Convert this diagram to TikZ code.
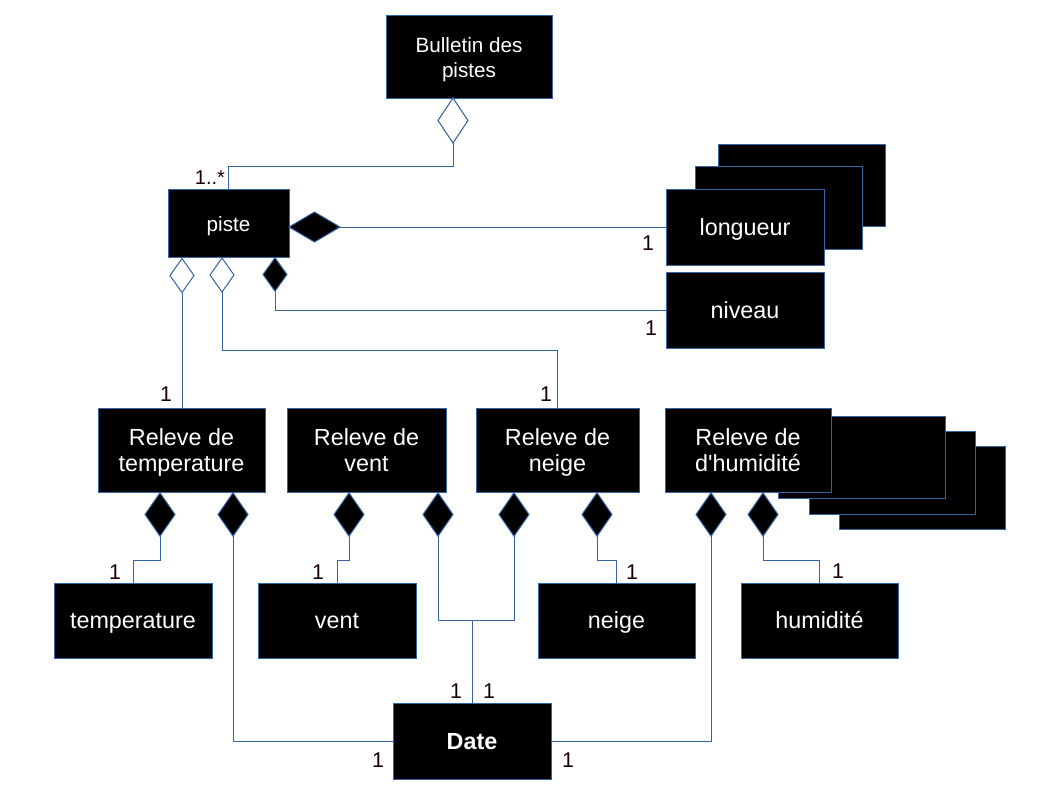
\documentclass[tikz,border=0pt]{standalone}
\usepackage{fontspec}
\setmainfont{Liberation Sans}
\usetikzlibrary{shapes.geometric}
\definecolor{lnblue}{RGB}{52,101,164}
\newcommand\tstrut{\rule{0pt}{18pt}}
\tikzset{
  box/.style={draw=lnblue, line width=0.75pt, fill=black, text=white, inner sep=0pt, outer sep=0pt, align=center, font=\fontsize{17.5}{19.5}\selectfont},
  smallbox/.style={box, font=\fontsize{15.5}{18.75}\selectfont},
  rect/.style n args={4}{minimum width={(#3-#1)*0.75pt}, minimum height={(#4-#2)*0.75pt}, at={({(#1+#3)/2},{(#2+#4)/2})}},
  dia/.style={diamond, draw=lnblue, line width=0.75pt, inner sep=0pt, outer sep=0pt},
  hol/.style={dia, fill=white},
  ful/.style={dia, fill=black},
  vd/.style={minimum width=22.5pt, minimum height=32.5pt},
  conn/.style={draw=lnblue, line width=0.75pt},
  lbl/.style={font=\fontsize{16}{18}\selectfont, inner sep=0pt, text=black!90!red}
}
\begin{document}
\begin{tikzpicture}[x=0.75pt, y=-0.75pt]
\useasboundingbox[fill=white] (0,0) rectangle (1058,794);

% boxes
\node[smallbox, rect={386}{15}{552}{98}] (bull) {\tstrut Bulletin des\\pistes\strut};
\node[smallbox, rect={168}{189}{289}{257}] (piste) {\tstrut piste\strut};
\node[box, rect={718}{144}{885}{226}] (lonC) {};
\node[box, rect={695}{166}{862}{249}] (lonB) {};
\node[box, rect={666}{189}{824}{265}] (lon) {\tstrut longueur\strut};
\node[box, rect={666}{272}{824}{348}] (niv) {\tstrut niveau\strut};

\node[box, rect={98}{408}{265}{492}] (rT) {\tstrut Releve de\\temperature\strut};
\node[box, rect={287}{408}{446}{492}] (rV) {\tstrut Releve de\\vent\strut};
\node[box, rect={476}{408}{639}{492}] (rN) {\tstrut Releve de\\neige\strut};
\node[box, rect={839}{446}{1005}{529}] (hC) {};
\node[box, rect={809}{431}{975}{514}] (hB) {};
\node[box, rect={778}{416}{945}{498}] (hA) {};
\node[box, rect={665}{408}{831}{492}] (rH) {\tstrut Releve de\\d\textquotesingle humidité\strut};

\node[box, rect={54}{583}{212}{658}] (tmp) {\tstrut temperature\strut};
\node[box, rect={258}{583}{416}{658}] (vnt) {\tstrut vent\strut};
\node[box, rect={538}{583}{695}{658}] (nge) {\tstrut neige\strut};
\node[box, rect={741}{583}{898}{658}] (hum) {\tstrut humidité\strut};
\node[box, rect={393}{703}{551}{779}, font=\fontsize{17.5}{19.5}\selectfont\bfseries] (date) {\tstrut Date\strut};

% diamonds
\node[hol, minimum width=22.5pt, minimum height=33.75pt] (dB) at (453,120.5) {};
\node[ful, minimum width=38.25pt, minimum height=22.5pt] (dPR) at (314.5,227) {};
\node[hol, minimum width=18pt, minimum height=25.5pt] (dP1) at (182,275.5) {};
\node[hol, minimum width=18pt, minimum height=25.5pt] (dP2) at (222,275) {};
\node[ful, minimum width=18pt, minimum height=25pt] (dP3) at (275,274.5) {};

\node[ful, vd] (dT1) at (160,514.5) {};
\node[ful, vd] (dT2) at (233,514.5) {};
\node[ful, vd] (dV1) at (349,514.5) {};
\node[ful, vd] (dV2) at (438,514.5) {};
\node[ful, vd] (dN1) at (514,514.5) {};
\node[ful, vd] (dN2) at (597,514.5) {};
\node[ful, vd] (dH1) at (711,514.5) {};
\node[ful, vd] (dH2) at (763,514.5) {};

% connectors
\draw[conn] (dB.south) -- (dB.south |- 0,166) -| (piste.north);
\draw[conn] (dPR.east) -- (lon.west);
\draw[conn] (dP1.south) -- (dP1.south |- rT.north);
\draw[conn] (dP2.south) -- (dP2.south |- 0,350) -| (rN.north);
\draw[conn] (dP3.south) |- (niv.west);

\draw[conn] (dT1.south) -- (dT1.south |- 0,560) -| (tmp.north);
\draw[conn] (dT2.south) |- (date.west);
\draw[conn] (dV1.south) -- (dV1.south |- 0,560) -| (vnt.north);
\draw[conn] (dV2.south) -- (dV2.south |- 0,620) -- (dN1.south |- 0,620) -- (dN1.south);
\draw[conn] (date.north) -- (date.north |- 0,620);
\draw[conn] (dN2.south) -- (dN2.south |- 0,560) -| (nge.north);
\draw[conn] (dH1.south) |- (date.east);
\draw[conn] (dH2.south) -- (dH2.south |- 0,560) -| (hum.north);

% labels
\node[lbl, font=\fontsize{15}{17}\selectfont] (l0) at (210,178) {1..*};
\node[lbl] (l1) at (648,243) {1};
\node[lbl] (l2) at (651,328) {1};
\node[lbl] (l3) at (166,394) {1};
\node[lbl] (l4) at (546,394) {1};
\node[lbl] (l5) at (115,572) {1};
\node[lbl] (l6) at (318,572) {1};
\node[lbl] (l7) at (632,572) {1};
\node[lbl] (l8) at (838,571) {1};
\node[lbl] (l9) at (456,691) {1};
\node[lbl] (l10) at (489,691) {1};
\node[lbl] (l11) at (378,760) {1};
\node[lbl] (l12) at (568,760) {1};
\end{tikzpicture}
\end{document}
